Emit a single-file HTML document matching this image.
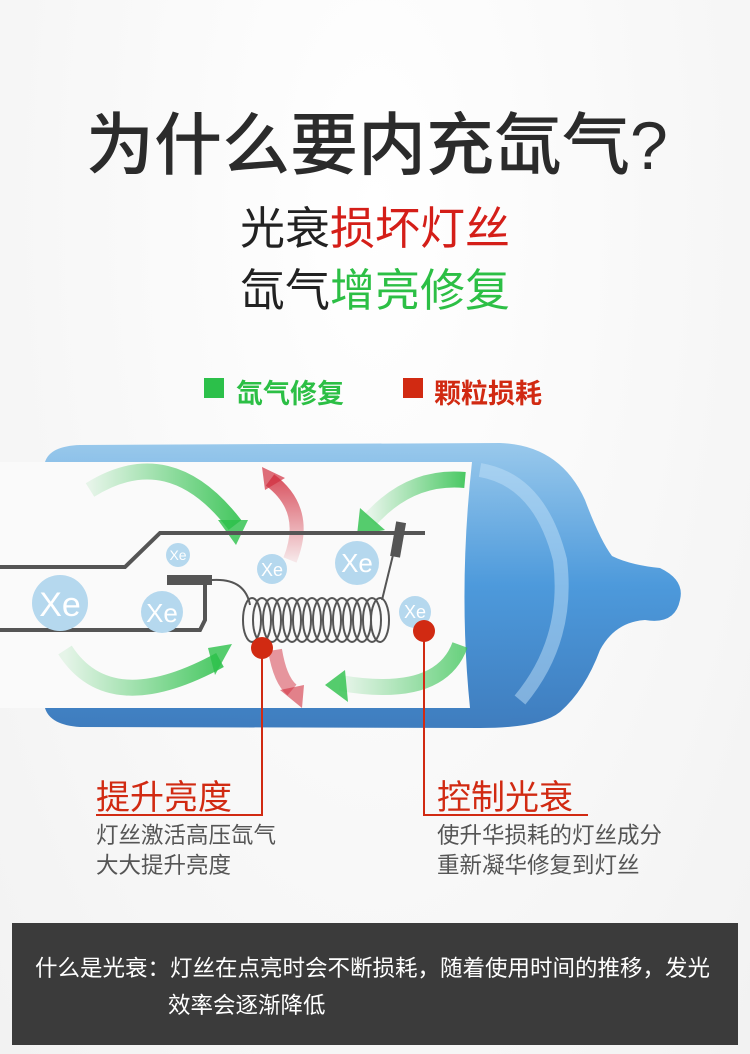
<!DOCTYPE html>
<html><head><meta charset="utf-8"><style>
body{margin:0;width:750px;height:1054px;background:#fff;position:relative;overflow:hidden;font-family:"Liberation Sans","Noto Sans CJK SC",sans-serif}
.t{position:absolute;white-space:nowrap}
</style></head><body>
<div style="position:absolute;inset:0;background:radial-gradient(ellipse at 50% 20%,#fff 0%,#f6f6f6 70%,#f2f2f2 100%)"></div>
<div class="t" style="left:86px;top:90px;font-size:68px;color:#2b2b2b;font-weight:500">为什么要内充氙气?</div>
<div class="t" style="left:240px;top:192px;font-size:45px;color:#222">光衰<span style="color:#d41e18">损坏灯丝</span></div>
<div class="t" style="left:240px;top:254px;font-size:45px;color:#222">氙气<span style="color:#2cbf45">增亮修复</span></div>
<div style="position:absolute;left:204px;top:378px;width:20px;height:20px;background:#2cc04a"></div>
<div class="t" style="left:236px;top:372px;font-size:27px;color:#2cbf45;font-weight:bold">氙气修复</div>
<div style="position:absolute;left:403px;top:378px;width:20px;height:20px;background:#d12a12"></div>
<div class="t" style="left:434px;top:372px;font-size:27px;color:#d12a12;font-weight:bold">颗粒损耗</div>
<svg style="position:absolute;left:0;top:0" width="750" height="1054">
<defs>
<linearGradient id="bl" x1="0" y1="0" x2="0" y2="1"><stop offset="0" stop-color="#8ec3ea"/><stop offset="0.5" stop-color="#3a8fd8"/><stop offset="1" stop-color="#2a6fb8"/></linearGradient>
<linearGradient id="gr" x1="0" y1="0" x2="1" y2="0"><stop offset="0" stop-color="#2cc04a" stop-opacity="0.1"/><stop offset="1" stop-color="#2cc04a" stop-opacity="0.85"/></linearGradient>
<linearGradient id="rd" x1="0" y1="1" x2="0" y2="0"><stop offset="0" stop-color="#d23040" stop-opacity="0.1"/><stop offset="1" stop-color="#d23040" stop-opacity="0.8"/></linearGradient>
</defs>
<path d="M45,462 Q50,446 80,445 L500,443 Q560,445 585,500 Q600,540 612,556 Q630,565 660,568 Q685,580 680,600 Q675,625 645,620 Q615,622 600,650 Q585,690 560,712 Q540,728 480,728 L80,727 Q50,725 45,708 Z" fill="url(#bl)" opacity="0.9"/>
<path d="M480,470 Q540,480 560,560 Q570,640 520,700" stroke="#bfe0f7" stroke-width="14" fill="none" opacity="0.5"/>
<path d="M0,462 L472,462 Q458,590 470,708 L0,708 Z" fill="#fafafa"/>
<path d="M90,490 Q170,440 235,525" stroke="url(#gr)" stroke-width="16" fill="none"/>
<polygon points="218,520 248,520 236,545" fill="#2cc04a" opacity="0.8"/>
<path d="M465,480 Q410,475 370,520" stroke="url(#gr)" stroke-width="16" fill="none"/>
<polygon points="360,508 385,530 357,535" fill="#2cc04a" opacity="0.8"/>
<path d="M65,650 Q110,720 220,660" stroke="url(#gr)" stroke-width="16" fill="none"/>
<polygon points="208,648 232,644 215,675" fill="#2cc04a" opacity="0.8"/>
<path d="M460,645 Q440,700 340,683" stroke="url(#gr)" stroke-width="16" fill="none" opacity="0.8"/>
<polygon points="345,670 325,685 348,702" fill="#2cc04a" opacity="0.8"/>
<path d="M290,560 Q310,510 270,480" stroke="url(#rd)" stroke-width="14" fill="none"/>
<polygon points="262,467 285,478 265,490" fill="#d23040" opacity="0.7"/>
<path d="M275,650 Q280,680 292,690" stroke="#d23040" stroke-width="14" fill="none" opacity="0.5"/>
<polygon points="280,690 304,685 302,708" fill="#d23040" opacity="0.6"/>
<polyline points="0,630 200,630 205,620 205,580" stroke="#555" stroke-width="4" fill="none"/>
<polyline points="0,567 125,567 160,533 425,533" stroke="#555" stroke-width="4" fill="none"/>
<rect x="167" y="575" width="45" height="10" fill="#555"/>
<path d="M212,580 Q245,578 250,605" stroke="#555" stroke-width="2" fill="none"/>
<rect x="393" y="522" width="10" height="35" fill="#555" transform="rotate(10 398 540)"/>
<path d="M393,555 L382,600" stroke="#555" stroke-width="2" fill="none"/>
<g stroke="#555" stroke-width="2" fill="none">
<ellipse cx="252" cy="620" rx="9" ry="22"/><ellipse cx="262" cy="620" rx="9" ry="22"/><ellipse cx="272" cy="620" rx="9" ry="22"/><ellipse cx="282" cy="620" rx="9" ry="22"/><ellipse cx="292" cy="620" rx="9" ry="22"/><ellipse cx="302" cy="620" rx="9" ry="22"/><ellipse cx="312" cy="620" rx="9" ry="22"/><ellipse cx="322" cy="620" rx="9" ry="22"/><ellipse cx="332" cy="620" rx="9" ry="22"/><ellipse cx="342" cy="620" rx="9" ry="22"/><ellipse cx="352" cy="620" rx="9" ry="22"/><ellipse cx="362" cy="620" rx="9" ry="22"/><ellipse cx="372" cy="620" rx="9" ry="22"/><ellipse cx="380" cy="620" rx="9" ry="22"/>
</g>
<g fill="#b5d8ee">
<circle cx="60" cy="603" r="28"/><circle cx="162" cy="612" r="21"/><circle cx="178" cy="555" r="12"/><circle cx="272" cy="569" r="15"/><circle cx="357" cy="563" r="22"/><circle cx="415" cy="612" r="16"/>
</g>
<g fill="#fff" font-family="Liberation Sans" text-anchor="middle">
<text x="60" y="616" font-size="34">Xe</text><text x="162" y="622" font-size="26">Xe</text><text x="178" y="560" font-size="14">Xe</text><text x="272" y="576" font-size="18">Xe</text><text x="357" y="572" font-size="26">Xe</text><text x="415" y="618" font-size="18">Xe</text>
</g>
<circle cx="262" cy="648" r="11" fill="#d12a12"/>
<circle cx="424" cy="631" r="11" fill="#d12a12"/>
<polyline points="262,648 262,815 96,815" stroke="#d12a12" stroke-width="2" fill="none"/>
<polyline points="424,631 424,815 588,815" stroke="#d12a12" stroke-width="2" fill="none"/>
</svg>
<div class="t" style="left:96px;top:770px;font-size:34px;color:#d12a12">提升亮度</div>
<div class="t" style="left:437px;top:770px;font-size:34px;color:#d12a12">控制光衰</div>
<div class="t" style="left:96px;top:821px;font-size:22.5px;color:#555;line-height:30px">灯丝激活高压氙气<br>大大提升亮度</div>
<div class="t" style="left:437px;top:821px;font-size:22.5px;color:#555;line-height:30px">使升华损耗的灯丝成分<br>重新凝华修复到灯丝</div>
<div style="position:absolute;left:12px;top:923px;width:726px;height:122px;background:#3b3b3b"></div>
<div class="t" style="left:35px;top:951px;font-size:22.5px;color:#fff">什么是光衰：灯丝在点亮时会不断损耗，随着使用时间的推移，发光</div>
<div class="t" style="left:168px;top:988px;font-size:22.5px;color:#fff">效率会逐渐降低</div>
</body></html>
